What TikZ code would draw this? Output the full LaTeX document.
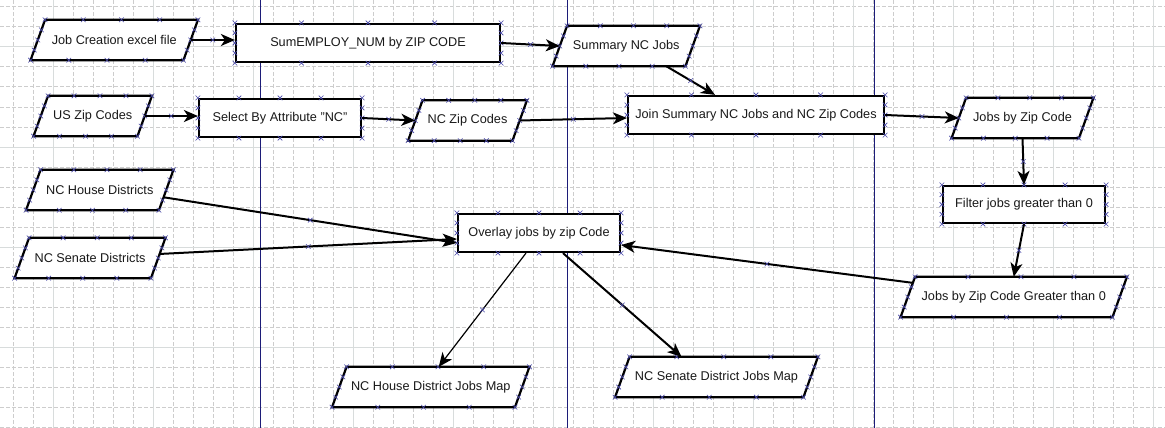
\documentclass[tikz,border=0pt]{standalone}
\usepackage{fontspec}
\setmainfont{Liberation Sans}
\usetikzlibrary{arrows.meta,calc,shapes.misc}
\pgfdeclarelayer{grid}
\pgfdeclarelayer{shapes}
\pgfsetlayers{grid,shapes,main}
\definecolor{gridminor}{HTML}{CDCDCD}
\definecolor{gridmajor}{HTML}{D8DCDC}
\definecolor{lane}{HTML}{1C1C78}
\definecolor{markc}{HTML}{4848A8}
\tikzset{
  txt/.style={font=\fontsize{12.7}{15}\selectfont, text=black!90},
  box/.style={txt, rectangle, draw=black, line width=2.2pt, fill=white, inner sep=0pt, minimum height=38pt},
  para/.style={txt, rectangle, inner sep=0pt, minimum height=40pt},
  paraline/.style={draw=black, line width=2.2pt, fill=white, line join=miter},
  conn/.style={draw=black, line width=2pt, -{Stealth[length=14pt,width=12pt,inset=4pt]}},
  thinconn/.style={conn, line width=1.2pt},
  xm/.style={cross out, draw=markc, line width=0.6pt, minimum size=4pt, inner sep=0pt},
}
\newcommand\edgemarks[2]{\foreach \t in {0,0.25,0.5,0.75}{\node[xm] at ($(#1)!\t!(#2)$) {};}}
\newcommand\rectmarks[1]{%
  \edgemarks{#1.north west}{#1.north east}\edgemarks{#1.north east}{#1.south east}%
  \edgemarks{#1.south east}{#1.south west}\edgemarks{#1.south west}{#1.north west}}
\newcommand\paraframe[1]{%
  \coordinate (#1-tl) at ([xshift=7.25pt]#1.north west);
  \coordinate (#1-tr) at ([xshift=7.25pt]#1.north east);
  \coordinate (#1-br) at ([xshift=-7.25pt]#1.south east);
  \coordinate (#1-bl) at ([xshift=-7.25pt]#1.south west);
  \begin{pgfonlayer}{shapes}
    \draw[paraline] (#1-tl) -- (#1-tr) -- (#1-br) -- (#1-bl) -- cycle;
  \end{pgfonlayer}
  \edgemarks{#1-tl}{#1-tr}\edgemarks{#1-tr}{#1-br}\edgemarks{#1-br}{#1-bl}\edgemarks{#1-bl}{#1-tl}}
\begin{document}
\begin{tikzpicture}[x=1pt,y=-1pt]
\useasboundingbox (0,0) rectangle (1165,428);
\begin{pgfonlayer}{grid}
  \fill[white] (0,0) rectangle (1165,428);
  \foreach \x in {13,33,...,1153} \draw[gridminor, line width=1pt, dash pattern=on 4pt off 2pt] (\x,0) -- (\x,428);
  \foreach \y in {7,27,...,427} \draw[gridminor, line width=1pt, dash pattern=on 4pt off 2pt] (0,\y) -- (1165,\y);
  \foreach \x in {53,153,...,1153} \draw[gridmajor, line width=1pt] (\x,0) -- (\x,428);
  \foreach \y in {47,147,...,347} \draw[gridmajor, line width=1pt] (0,\y) -- (1165,\y);
  \foreach \x in {260,567.5,874} \draw[lane, line width=1pt] (\x,0) -- (\x,428);
\end{pgfonlayer}

% nodes
\node[para, minimum width=152.5pt] (job) at (114.25,40) {Job Creation excel file};
\node[box, minimum width=264pt] (sum) at (368,43) {SumEMPLOY\_NUM by ZIP CODE};
\node[para, minimum width=132.5pt] (summ) at (626.25,46) {Summary NC Jobs};
\node[para, minimum width=103.5pt] (uszip) at (92.75,116) {US Zip Codes};
\node[box, minimum width=162pt] (select) at (280,118) {Select By Attribute "NC"};
\node[para, minimum width=104pt] (nczip) at (467.5,120.5) {NC Zip Codes};
\node[box, minimum width=256pt] (join) at (756,115) {Join Summary NC Jobs and NC Zip Codes};
\node[para, minimum width=127pt] (jzip) at (1022.5,118) {Jobs by Zip Code};
\node[box, minimum width=162pt, minimum height=37pt] (filter) at (1024,204.5) {Filter jobs greater than 0};
\node[para, minimum width=211.5pt] (gt0) at (1013.75,297) {Jobs by Zip Code Greater than 0};
\node[para, minimum width=132.5pt] (house) at (99.75,190) {NC House Districts};
\node[para, minimum width=136pt] (senate) at (90,258) {NC Senate Districts};
\node[box, minimum width=162pt] (overlay) at (539,233) {Overlay jobs by zip Code};
\node[para, minimum width=182.5pt] (hmap) at (430.75,387) {NC House District Jobs Map};
\node[para, minimum width=188pt] (smap) at (716.5,377) {NC Senate District Jobs Map};

\foreach \n in {job,summ,uszip,nczip,jzip,gt0,house,senate,hmap,smap} {\paraframe{\n}}
\foreach \n in {sum,select,join,filter,overlay} {\rectmarks{\n}}

% connectors
\draw[conn] (job.east) -- (job.east -| sum.west) node[midway,xm]{};
\draw[conn] (sum.east) -- (summ.west) node[midway,xm]{};
\draw[conn] ([xshift=40pt]summ.south) -- ([xshift=-41pt]join.north) node[midway,xm]{};
\draw[conn] (uszip.east) -- (uszip.east -| select.west) node[midway,xm]{};
\draw[conn] (select.east) -- (nczip.west) node[midway,xm]{};
\draw[conn] (nczip.east) -- ([yshift=-3pt]join.west) node[midway,xm]{};
\draw[conn] (join.east) -- (jzip.west) node[midway,xm]{};
\draw[conn] (jzip.south) -- (filter.north) node[midway,xm]{};
\draw[conn] (filter.south) -- (gt0.north) node[midway,xm]{};
\draw[conn] ($(gt0-tl)!0.15!(gt0-bl)$) -- ([yshift=-12pt]overlay.east) node[midway,xm]{};
\draw[conn] ($(house-tr)!0.68!(house-br)$) -- ([yshift=-10pt]overlay.west) node[midway,xm]{};
\draw[conn] ($(senate-tr)!0.4!(senate-br)$) -- ([yshift=-6pt]overlay.west) node[midway,xm]{};
\draw[thinconn] ([xshift=-13pt]overlay.south) -- ([xshift=8pt]hmap.north) node[midway,xm]{};
\draw[conn] ([xshift=24pt]overlay.south) -- ([xshift=-35pt]smap.north) node[midway,xm]{};
\end{tikzpicture}
\end{document}
